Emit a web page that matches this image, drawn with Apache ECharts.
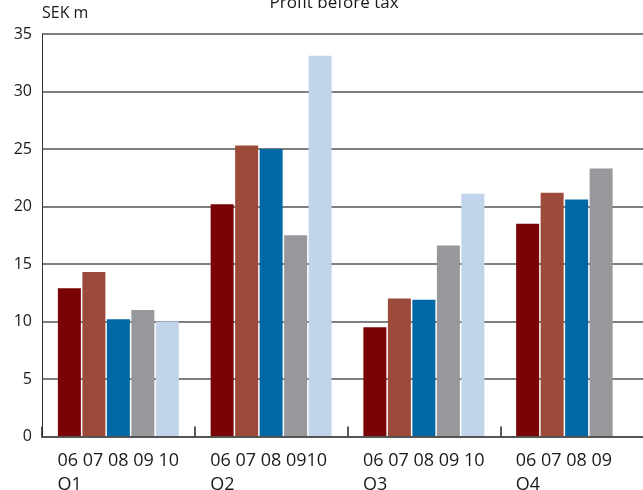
<!DOCTYPE html>
<html>
<head>
<meta charset="utf-8">
<script src="https://cdn.jsdelivr.net/npm/echarts@6/dist/echarts.min.js"></script>
<style>html,body{margin:0;padding:0;background:#fff}#c{width:643px;height:490px}</style>
</head>
<body>
<div id="c"></div>
<script>
var quarters = ['Q1', 'Q2', 'Q3', 'Q4'];
var years = ['06', '07', '08', '09', '10'];
var v06 = [12.9, 20.2, 9.5, 18.5];
var v07 = [14.3, 25.3, 12.0, 21.2];
var v08 = [10.2, 25.0, 11.9, 20.6];
var v09 = [11.0, 17.5, 16.6, 23.3];
var v10 = [10.0, 33.1, 21.1, null];
var colors = ['#7a0306', '#9c4a3a', '#0068a5', '#97989c', '#c2d4e9'];
var yTicks = [0, 5, 10, 15, 20, 25, 30, 35];

var seriesData = [v06, v07, v08, v09, v10];
var chart = echarts.init(document.getElementById('c'), null, {renderer: 'canvas'});
var FONT = 'Open Sans';

function labelFor(q, idx) {
  var ys = [];
  for (var i = 0; i < years.length; i++) {
    if (seriesData[i][idx] !== null && seriesData[i][idx] !== undefined) ys.push(years[i]);
  }
  var line1 = (q === 'Q2') ? ys.slice(0, 3).join(' ') + ' ' + ys.slice(3).join('') : ys.join(' ');
  return '{a|' + line1 + '}\n{a|' + q + '}';
}

chart.setOption({
  animation: false,
  title: {
    text: 'Profit before tax',
    left: 329, top: -10,
    textAlign: 'center',
    textStyle: {fontFamily: FONT, fontSize: 17, fontWeight: 'normal', color: '#1a1a1a'}
  },
  grid: {left: 42, right: -10, top: 34, bottom: 53.5, outerBoundsMode: 'none', containLabel: false},
  xAxis: {
    type: 'category',
    data: quarters,
    z: 5,
    axisLine: {lineStyle: {color: '#555', width: 2}},
    axisTick: {show: true, inside: true, alignWithLabel: false, interval: 0, length: 10, lineStyle: {color: '#222', width: 1.5}},
    axisLabel: {
      margin: 12,
      interval: 0,
      hideOverlap: false,
      formatter: function (v, i) { return labelFor(v, i); },
      rich: {
        a: {width: 122, align: 'left', fontFamily: FONT, fontSize: 18, lineHeight: 24, color: '#1a1a1a'}
      }
    }
  },
  yAxis: {
    type: 'value',
    min: yTicks[0], max: yTicks[yTicks.length - 1], interval: 5,
    name: 'SEK m',
    nameLocation: 'end',
    nameGap: 13,
    nameTextStyle: {align: 'left', fontFamily: FONT, fontSize: 16, color: '#1a1a1a'},
    axisLine: {show: true, lineStyle: {color: '#333', width: 1}},
    axisTick: {show: false},
    axisLabel: {margin: 10, fontFamily: FONT, fontSize: 16, color: '#1a1a1a'},
    splitLine: {lineStyle: {color: '#555', width: 1.5}}
  },
  series: years.map(function (y, i) {
    return {
      name: y,
      type: 'bar',
      data: seriesData[i],
      barWidth: 23,
      barGap: '6.5%',
      itemStyle: {color: colors[i]}
    };
  })
});
</script>
</body>
</html>
